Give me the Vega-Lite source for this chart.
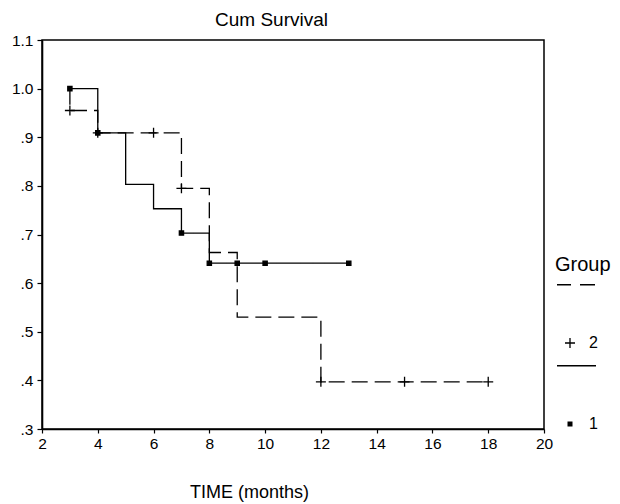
{
  "$schema": "https://vega.github.io/schema/vega-lite/v6.json",
  "width": 502,
  "height": 389,
  "autosize": "none",
  "padding": {"left": 42, "top": 40, "right": 76, "bottom": 75},
  "background": "white",
  "config": {
    "font": "Liberation Sans",
    "view": {"stroke": "black", "strokeWidth": 1.5},
    "axis": {
      "grid": false,
      "domainColor": "black",
      "domainWidth": 1.6,
      "tickColor": "black",
      "tickWidth": 1.2,
      "tickSize": 4,
      "labelColor": "black",
      "titleColor": "black",
      "labelFont": "Liberation Sans",
      "labelFontSize": 15.5,
      "titleFont": "Liberation Sans",
      "titleFontWeight": "normal"
    },
    "legend": {"labelFont": "Liberation Sans", "titleFont": "Liberation Sans"}
  },
  "datasets": {
    "steps": [
      {"group": "1", "seq": 1, "time": 3, "surv": 1.0},
      {"group": "1", "seq": 2, "time": 4, "surv": 0.909},
      {"group": "1", "seq": 3, "time": 5, "surv": 0.803},
      {"group": "1", "seq": 4, "time": 6, "surv": 0.753},
      {"group": "1", "seq": 5, "time": 7, "surv": 0.703},
      {"group": "1", "seq": 6, "time": 8, "surv": 0.641},
      {"group": "1", "seq": 7, "time": 13, "surv": 0.641},
      {"group": "2", "seq": 1, "time": 3, "surv": 1.0},
      {"group": "2", "seq": 2, "time": 3, "surv": 0.955},
      {"group": "2", "seq": 3, "time": 4, "surv": 0.909},
      {"group": "2", "seq": 4, "time": 7, "surv": 0.795},
      {"group": "2", "seq": 5, "time": 8, "surv": 0.663},
      {"group": "2", "seq": 6, "time": 9, "surv": 0.53},
      {"group": "2", "seq": 7, "time": 12, "surv": 0.397},
      {"group": "2", "seq": 8, "time": 18, "surv": 0.397}
    ],
    "marks": [
      {"group": "1", "time": 3, "surv": 1.0},
      {"group": "1", "time": 4, "surv": 0.909},
      {"group": "1", "time": 7, "surv": 0.703},
      {"group": "1", "time": 8, "surv": 0.641},
      {"group": "1", "time": 9, "surv": 0.641},
      {"group": "1", "time": 10, "surv": 0.641},
      {"group": "1", "time": 13, "surv": 0.641},
      {"group": "2", "time": 3, "surv": 0.955},
      {"group": "2", "time": 4, "surv": 0.909},
      {"group": "2", "time": 6, "surv": 0.909},
      {"group": "2", "time": 7, "surv": 0.795},
      {"group": "2", "time": 12, "surv": 0.397},
      {"group": "2", "time": 15, "surv": 0.397},
      {"group": "2", "time": 18, "surv": 0.397}
    ]
  },
  "encoding": {
    "x": {
      "field": "time",
      "type": "quantitative",
      "scale": {"domain": [2, 20], "nice": false, "zero": false},
      "axis": {
        "values": [2, 4, 6, 8, 10, 12, 14, 16, 18, 20],
        "labelPadding": 3,
        "labelFlush": false,
        "title": "TIME (months)",
        "titleFontSize": 18,
        "titleX": 207,
        "titleY": 68,
        "titleAlign": "center",
        "titleBaseline": "alphabetic"
      }
    },
    "y": {
      "field": "surv",
      "type": "quantitative",
      "scale": {"domain": [0.3, 1.1], "nice": false, "zero": false},
      "axis": {
        "values": [0.3, 0.4, 0.5, 0.6, 0.7, 0.8, 0.9, 1.0, 1.1],
        "labelExpr": "datum.value >= 1 ? format(datum.value, '.1f') : replace(format(datum.value, '.1f'), '0.', '.')",
        "tickSize": 5,
        "labelPadding": 4,
        "title": "Cum Survival",
        "titleFontSize": 19,
        "titleAngle": 0,
        "titleX": 229,
        "titleY": -15,
        "titleAlign": "center",
        "titleBaseline": "alphabetic"
      }
    }
  },
  "layer": [
    {
      "data": {"name": "steps"},
      "mark": {"type": "line", "interpolate": "step-after", "color": "black", "strokeWidth": 1.3},
      "encoding": {
        "detail": {"field": "group"},
        "order": {"field": "seq", "type": "quantitative"},
        "strokeDash": {
          "field": "group",
          "type": "nominal",
          "scale": {"domain": ["1", "2"], "range": [[1, 0], [16, 7]]},
          "legend": null
        }
      }
    },
    {
      "data": {"name": "marks"},
      "mark": {"type": "point", "filled": true, "fill": "black", "stroke": "black", "strokeWidth": 1.3, "opacity": 1},
      "encoding": {
        "shape": {
          "field": "group",
          "type": "nominal",
          "scale": {"domain": ["1", "2"], "range": ["square", "M-1,0H1M0,-1V1"]},
          "legend": null
        },
        "size": {
          "field": "group",
          "type": "nominal",
          "scale": {"domain": ["1", "2"], "range": [18, 100]},
          "legend": null
        }
      }
    },
    {
      "data": {"name": "marks"},
      "mark": {"type": "point", "filled": true, "fill": "black", "stroke": "black", "strokeWidth": 1.2, "opacity": 0, "size": 100},
      "encoding": {
        "shape": {
          "field": "group",
          "type": "nominal",
          "scale": {
            "domain": ["2", "1"],
            "range": [
              "M-2.6,-11.8H0.2V-11.5H-2.6ZM2,-11.8H5V-11.5H2ZM-1,-0.13H1V0.13H-1ZM-0.13,-1H0.13V1H-0.13Z",
              "M-2.6,-11.8H5.2V-11.5H-2.6ZM-0.5,-0.5H0.5V0.5H-0.5Z"
            ]
          },
          "legend": {
            "orient": "none",
            "legendX": 513,
            "legendY": 215,
            "title": "Group",
            "titleFontSize": 20,
            "titleFontWeight": "normal",
            "titleColor": "black",
            "titlePadding": 60,
            "labelFontSize": 16,
            "labelColor": "black",
            "labelOffset": 11,
            "symbolOffset": 7,
            "symbolSize": 100,
            "rowPadding": 11,
            "padding": 0,
            "symbolOpacity": 1,
            "symbolFillColor": "black",
            "symbolStrokeColor": "black",
            "encode": {
              "symbols": {
                "update": {
                  "opacity": {"value": 1},
                  "fill": {"value": "black"}
                }
              }
            }
          }
        }
      }
    }
  ],
  "resolve": {"scale": {"shape": "independent"}}
}
